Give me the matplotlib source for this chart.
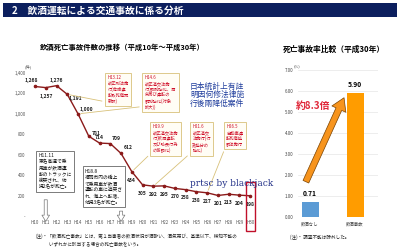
import matplotlib
matplotlib.use('Agg')
import matplotlib.pyplot as plt
from matplotlib.patches import Rectangle

plt.rcParams['font.family'] = ['Noto Sans CJK JP', 'DejaVu Sans']

# ---- data ----
years = ['H10', 'H11', 'H12', 'H13', 'H14', 'H15', 'H16', 'H17', 'H18', 'H19', 'H20',
         'H21', 'H22', 'H23', 'H24', 'H25', 'H26', 'H27', 'H28', 'H29', 'H30']
deaths = [1268, 1257, 1276, 1191, 1000, 781, 714, 709, 612, 434, 305,
          292, 295, 270, 258, 238, 227, 201, 213, 204, 198]
# label offsets (points)
lab_off = [(-3, 4), (0, -6), (0, 4), (6, -3), (6, 3), (5, 2), (0, 4), (4, 4), (5, 4), (0, -6), (0, -6),
           (0, -6), (0, -6), (0, -6), (0, -6), (0, -6), (0, -6), (0, -6), (0, -6), (0, -6), (0, -6)]

rate_cats = ['飲酒なし', '飲酒事故']
rate_vals = [0.71, 5.90]

law_events = [
    (3, 'H13.12\n改正刑法施\n行(危険運\n転致死傷罪\n新設)', (0.345, 0.985)),
    (4, 'H14.6\n改正道交法施\n行(罰則強化、酒\n気帯び運転の\n罰則強化(対象\n拡大))', (0.51, 0.985)),
    (9, 'H19.9\n改正道交法施\n行(飲酒運転\n及び助長行為\nの厳罰化)', (0.545, 0.64)),
    (11, 'H21.6\n改正道交\n法施行(行\n政処分の\n強化)', (0.72, 0.64)),
    (16, 'H26.5\n自動車運\n転死傷処\n罰法施行', (0.87, 0.64)),
]
incidents = [
    (1, 'H11.11\n東名高速で乗\n用車が飲酒運\n転のトラックに\n衝突され、幼\n児2名が死亡。', (0.04, 0.44), 186),
    (8, 'H18.8\n福岡市内の橋上\nで乗用車が飲酒\n運転の車に追突さ\nれ、海上へ転落、\n幼児3名が死亡。', (0.245, 0.33), 75),
]

fig = plt.figure(figsize=(4, 2.5), dpi=100, facecolor='white')

# title band
fig.patches.append(Rectangle((0.008, 0.932), 0.984, 0.056, transform=fig.transFigure,
                             facecolor='#0c1f5e', edgecolor='none'))
fig.text(0.03, 0.958, '2　飲酒運転による交通事故に係る分析', color='white',
         fontsize=7, fontweight='bold', va='center')

# ---- left chart ----
ax = fig.add_axes([0.074, 0.136, 0.565, 0.572])
ax.plot(range(len(deaths)), deaths, color='#8b1a1a', lw=1.0, marker='o', ms=1.6, zorder=3)
for i, (v, off) in enumerate(zip(deaths, lab_off)):
    ax.annotate(f'{v:,}', (i, v), xytext=off, textcoords='offset points',
                ha='center', va='center', fontsize=3.6, fontweight='bold', color='#222')
ax.set_xlim(-0.5, 20.5)
ax.set_ylim(0, 1400)
ax.set_yticks(range(0, 1401, 200))
ax.set_yticklabels(['-' if t == 0 else f'{t:,}' for t in range(0, 1401, 200)])
ax.set_xticks(range(len(years)))
ax.set_xticklabels(years)
ax.tick_params(length=0, labelsize=3.2, colors='#555', pad=3)
for s in ax.spines.values():
    s.set_visible(False)
ax.text(-0.02, 1.03, '(件)', transform=ax.transAxes, fontsize=3, color='#555')

for idx, txt, pos in law_events:
    ax.annotate(txt, (idx, deaths[idx]), xytext=pos, textcoords='axes fraction',
                ha='left', va='top', fontsize=3.1, color='#d0102a', linespacing=1.15,
                bbox=dict(boxstyle='square,pad=0.6', fc='#fffdf5', ec='#d8c17a', lw=0.6),
                arrowprops=dict(arrowstyle='-', color='#d8c17a', lw=0.6,
                                relpos=(0, 0.1) if idx == 4 else (0, 0.05)),
                annotation_clip=False, zorder=4)

for idx, txt, pos, top in incidents:
    ax.text(pos[0], pos[1], txt, transform=ax.transAxes, ha='left', va='top',
            fontsize=3.45, color='#111', linespacing=1.3, zorder=4,
            bbox=dict(boxstyle='square,pad=0.5', fc='white', ec='#666', lw=0.6))
    ax.annotate('', xy=(idx, -80), xytext=(idx, top),
                arrowprops=dict(arrowstyle='simple,head_width=0.55,head_length=0.45,tail_width=0.22',
                                fc='white', ec='#777', lw=0.5),
                annotation_clip=False, zorder=3)

# highlight H30
ax.add_patch(Rectangle((19.6, -150), 0.8, 480, fill=False, ec='#c0102a', lw=1.0,
                       clip_on=False, zorder=5))

fig.text(0.1, 0.8, '飲酒死亡事故件数の推移（平成10年～平成30年）', fontsize=5.3, fontweight='bold')

# ---- right chart ----
ax2 = fig.add_axes([0.745, 0.132, 0.2, 0.588])
ax2.bar(range(2), rate_vals, width=0.38, color=['#5b9bd5', '#ff9c00'], zorder=3)
for i, v in enumerate(rate_vals):
    ax2.text(i, v + 0.25, f'{v:.2f}', ha='center', va='bottom', fontsize=4.8, fontweight='bold')
ax2.set_xlim(-0.27, 1.51)
ax2.set_ylim(0, 7)
ax2.set_yticks(range(0, 8))
ax2.set_yticklabels([f'{t:.2f}' for t in range(0, 8)])
ax2.set_xticks(range(2))
ax2.set_xticklabels(rate_cats)
ax2.tick_params(length=0, labelsize=3.2, colors='#444', pad=3)
ax2.grid(axis='y', color='#e6e6e6', lw=0.5, zorder=0)
for s in ax2.spines.values():
    s.set_visible(False)
ax2.text(-0.05, 1.02, '(%)', transform=ax2.transAxes, fontsize=3, color='#555')
ax2.annotate('', xy=(0.78, rate_vals[1] - 0.1), xytext=(-0.12, rate_vals[0] + 0.85),
             arrowprops=dict(arrowstyle='simple,head_width=1.1,head_length=0.9,tail_width=0.45',
                             fc='#f7941d', ec='#7a4200', lw=0.5), zorder=4)
ax2.text(-0.33, 5.3, '約8.3倍', ha='left', va='center', fontsize=7, fontweight='bold',
         color='#e0283a', zorder=5)
fig.text(0.708, 0.792, '死亡事故率比較（平成30年）', fontsize=5.6, fontweight='bold')

# notes
fig.text(0.088, 0.04, '(注)・「飲酒死亡事故」とは、第１当事者の飲酒状況が酒酔い、酒気帯び、基準以下、検知不能の\n'
         '　　　いずれかに該当する場合の死亡事故をいう。', fontsize=3.3, color='#222', va='center',
         linespacing=1.4)
fig.text(0.725, 0.052, '(注)・ 調査不能は除外した。', fontsize=3.3, color='#222', va='center')

# overlay text present in the source image
fig.text(0.475, 0.62, '日本統計上有註\n明因何修法律施\n行後兩降低案件', fontsize=5.6,
         color='#1e3c9c', family=['Noto Sans CJK TC', 'DejaVu Sans'], va='center',
         linespacing=1.05)
fig.text(0.475, 0.268, 'prtsc by blackjack', fontsize=6.5, color='#26348a',
         family='DejaVu Serif', va='center')

fig.savefig('out.png', dpi=100, facecolor='white')
